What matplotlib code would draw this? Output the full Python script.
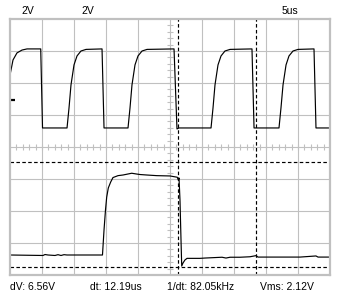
import matplotlib
matplotlib.use("Agg")
import matplotlib.pyplot as plt
import numpy as np

# ---- data (time in us, screen voltage in V, 2 V/div, 5 us/div) ----
ch1_t = [0.00, 0.47, 1.09, 1.88, 2.66, 4.80, 5.08, 8.91,
         9.22, 9.53, 10.00, 10.47, 11.09, 11.88, 14.38, 14.69, 18.44,
         18.75, 19.06, 19.53, 20.00, 20.63, 21.41, 25.63, 26.09, 26.41, 31.41,
         31.72, 32.03, 32.50, 32.97, 33.59, 34.38, 37.81, 38.13, 42.03,
         42.34, 42.66, 43.13, 43.59, 44.22, 45.00, 47.50, 47.81, 50.00]
ch1_v = [4.50, 5.44, 5.88, 6.06, 6.13, 6.13, 1.19, 1.19,
         2.44, 3.88, 5.13, 5.69, 6.00, 6.10, 6.13, 1.19, 1.19,
         2.44, 3.88, 5.13, 5.69, 6.00, 6.10, 6.13, 1.13, 1.19, 1.19,
         2.44, 3.88, 5.13, 5.69, 6.00, 6.10, 6.13, 1.19, 1.19,
         2.44, 3.88, 5.13, 5.69, 6.00, 6.10, 6.13, 1.19, 1.19]

ch2_t = [0.00, 5.16, 5.47, 5.94, 7.03, 7.50, 7.97, 8.44, 8.91, 14.45,
         14.69, 14.92, 15.11, 15.36, 15.73, 16.09, 16.88, 17.66, 19.02,
         19.80, 20.31, 21.36, 22.92, 25.00, 26.14, 26.30, 26.41, 26.56,
         26.72, 26.83, 27.03, 27.34, 27.66, 29.69, 30.47, 33.13, 33.75,
         34.38, 35.94, 37.50, 38.44, 38.75, 45.31, 47.81, 48.13, 50.00]
ch2_v = [-6.75, -6.78, -6.72, -6.75, -6.78, -6.73, -6.78, -6.73, -6.75, -6.75,
         -5.19, -3.94, -3.13, -2.56, -2.19, -1.91, -1.79, -1.75, -1.64,
         -1.69, -1.72, -1.75, -1.79, -1.81, -1.89, -2.06, -1.94, -3.31,
         -5.81, -7.44, -7.25, -7.06, -6.96, -6.96, -6.94, -6.89, -6.94,
         -6.89, -6.89, -6.86, -6.79, -6.88, -6.88, -6.81, -6.88, -6.88]

ch1_ground = 2.94
cursor_t = [26.28, 38.47]
cursor_v = [-0.91, -7.47]

top_labels = ["2V", "2V", "5us"]
bottom_labels = ["dV: 6.56V", "dt: 12.19us", "1/dt: 82.05kHz", "Vms: 2.12V"]

# ---- figure ----
W, H = 342, 299
fig = plt.figure(figsize=(W / 100, H / 100), dpi=100)
fig.patch.set_facecolor("white")
L, R, T, B = 10, 330, 19, 275
ax = fig.add_axes([L / W, 1 - B / H, (R - L) / W, (B - T) / H])
ax.set_xlim(0, 50)
ax.set_ylim(-8, 8)
ax.set_facecolor("white")

grid_c = "#c0c0c0"
ax.set_xticks(np.arange(5, 50, 5))
ax.set_yticks(np.arange(-6, 8, 2))
ax.tick_params(length=0, labelbottom=False, labelleft=False)
ax.grid(True, color=grid_c, linewidth=0.8)
for s in ax.spines.values():
    s.set_color(grid_c)
    s.set_linewidth(1.6)

# minor ticks on center axes
for xm in np.arange(1, 50, 1):
    ax.plot([xm, xm], [-0.17, 0.17], color=grid_c, lw=0.8, solid_capstyle="butt")
for ym in np.arange(-7.6, 8, 0.4):
    ax.plot([24.6, 25.4], [ym, ym], color=grid_c, lw=0.8, solid_capstyle="butt")

# traces
ax.plot(ch1_t, ch1_v, color="black", lw=0.85)
ax.plot(ch2_t, ch2_v, color="black", lw=0.85)

# ground marker
ax.plot([0.15, 0.8], [ch1_ground, ch1_ground], color="black", lw=1.6, solid_capstyle="butt")

# cursors
for ct in cursor_t:
    ax.axvline(ct, color="black", lw=0.85, ls=(0, (3, 2)))
for cv in cursor_v:
    ax.axhline(cv, color="black", lw=0.85, ls=(0, (3, 2)))

fnt = dict(family="Liberation Sans", fontsize=7.5, color="black")
top_x = [21, 81, 282]
for lab, x in zip(top_labels, top_x):
    fig.text(x / W, 1 - 11 / H, lab, ha="left", va="center", **fnt)
bot_x = [10, 90, 167, 260]
for lab, x in zip(bottom_labels, bot_x):
    fig.text(x / W, 1 - 287 / H, lab, ha="left", va="center", **fnt)

fig.savefig("out.png", dpi=100, facecolor="white")
